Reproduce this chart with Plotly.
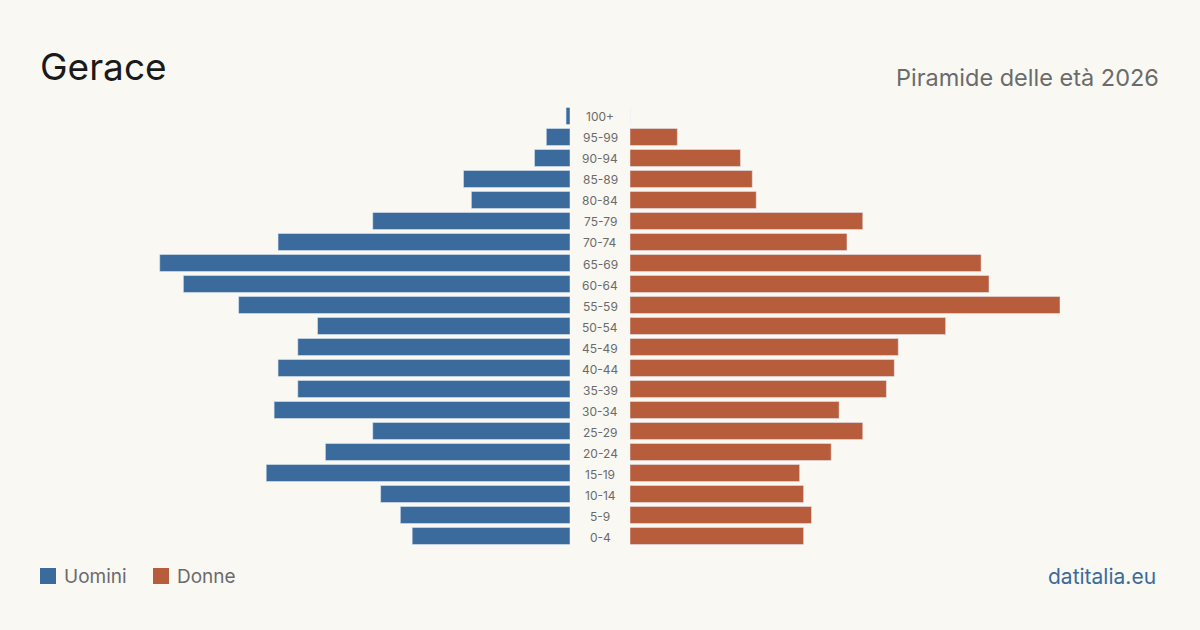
import plotly.graph_objects as go

ages = ["0-4", "5-9", "10-14", "15-19", "20-24", "25-29", "30-34", "35-39", "40-44",
        "45-49", "50-54", "55-59", "60-64", "65-69", "70-74", "75-79", "80-84",
        "85-89", "90-94", "95-99", "100+"]
men = [40, 43, 48, 77, 62, 50, 75, 69, 74, 69, 64, 84, 98, 104, 74, 50, 25, 27, 9, 6, 1]
women = [44, 46, 44, 43, 51, 59, 53, 65, 67, 68, 80, 109, 91, 89, 55, 59, 32, 31, 28, 12, 0]

title = "Gerace"
subtitle = "Piramide delle età 2026"
source = "datitalia.eu"
men_label = "Uomini"
women_label = "Donne"

BLUE = "#3b6b9c"
ORANGE = "#b85d3c"
BG = "#f9f8f3"
GRAY = "#6b6b6b"
FONT = "Inter, Roboto, sans-serif"

W, H = 1200, 630
vmax = max(max(men), max(women))

fig = go.Figure()
fig.add_trace(go.Bar(y=ages, x=men, orientation="h", marker_color=BLUE,
                     xaxis="x", yaxis="y", name=men_label, showlegend=False,
                     hoverinfo="x+y"))
fig.add_trace(go.Bar(y=ages, x=women, orientation="h", marker_color=ORANGE,
                     xaxis="x2", yaxis="y", name=women_label, showlegend=False,
                     hoverinfo="x+y"))

ydom = [83.5 / H, 1 - 105.5 / H]
annotations = []
for a in ages:
    annotations.append(dict(x=0.5, xref="paper", y=a, yref="y", text=a, showarrow=False,
                            yshift=-1,
                            font=dict(size=12, color=GRAY, family=FONT),
                            xanchor="center", yanchor="middle"))

annotations += [
    dict(x=38 / W, y=1 - 67 / H, xref="paper", yref="paper", text=title, showarrow=False,
         xanchor="left", yanchor="middle", font=dict(size=37, color="#1a1a1a", family=FONT)),
    dict(x=1161 / W, y=1 - 77 / H, xref="paper", yref="paper", text=subtitle, showarrow=False,
         xanchor="right", yanchor="middle", font=dict(size=23.5, color=GRAY, family=FONT)),
    dict(x=1158 / W, y=1 - 576 / H, xref="paper", yref="paper", text=source, showarrow=False,
         xanchor="right", yanchor="middle", font=dict(size=21, color=BLUE, family=FONT)),
    dict(x=62 / W, y=1 - 576 / H, xref="paper", yref="paper", text=men_label, showarrow=False,
         xanchor="left", yanchor="middle", font=dict(size=19, color=GRAY, family=FONT)),
    dict(x=175 / W, y=1 - 576 / H, xref="paper", yref="paper", text=women_label, showarrow=False,
         xanchor="left", yanchor="middle", font=dict(size=19, color=GRAY, family=FONT)),
]

shapes = [
    dict(type="rect", xref="paper", yref="paper", x0=40 / W, x1=56 / W,
         y0=1 - 584 / H, y1=1 - 568 / H, fillcolor=BLUE, line=dict(width=0)),
    dict(type="rect", xref="paper", yref="paper", x0=153 / W, x1=169 / W,
         y0=1 - 584 / H, y1=1 - 568 / H, fillcolor=ORANGE, line=dict(width=0)),
]

fig.update_layout(
    width=W, height=H,
    margin=dict(l=0, r=0, t=0, b=0),
    paper_bgcolor=BG, plot_bgcolor=BG,
    bargap=0.19,
    showlegend=False,
    xaxis=dict(domain=[140 / W, 570 / W], range=[vmax, 0], visible=False, fixedrange=True),
    xaxis2=dict(domain=[630 / W, 1060 / W], range=[0, vmax], visible=False, fixedrange=True),
    yaxis=dict(domain=ydom, categoryorder="array", categoryarray=ages, visible=False,
               fixedrange=True),
    annotations=annotations,
    shapes=shapes,
    font=dict(family=FONT),
)

fig.write_html("out.html")
